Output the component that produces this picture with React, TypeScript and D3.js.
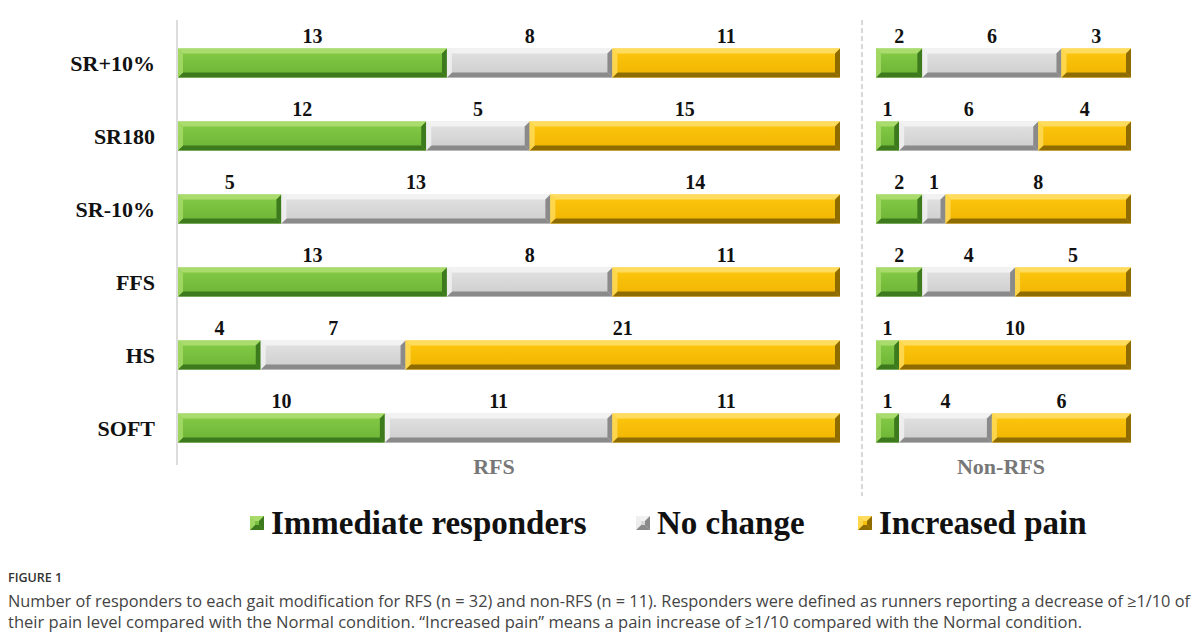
import React from "react";
import * as d3 from "d3";

const categories = ["SR+10%", "SR180", "SR-10%", "FFS", "HS", "SOFT"];
const seriesNames = ["Immediate responders", "No change", "Increased pain"];
const rfsImmediate = [13, 12, 5, 13, 4, 10];
const rfsNoChange = [8, 5, 13, 8, 7, 11];
const rfsIncreased = [11, 15, 14, 11, 21, 11];
const nonImmediate = [2, 1, 2, 2, 1, 1];
const nonNoChange = [6, 6, 1, 4, 0, 4];
const nonIncreased = [3, 4, 8, 5, 10, 6];
const rfsTotal = 32;
const nonTotal = 11;
const captionTitle = "FIGURE 1";
const captionLines = [
  "Number of responders to each gait modification for RFS (n = 32) and non-RFS (n = 11). Responders were defined as runners reporting a decrease of \u22651/10 of",
  "their pain level compared with the Normal condition. \u201cIncreased pain\u201d means a pain increase of \u22651/10 compared with the Normal condition.",
];

const palettes = [
  { light: "#a9dc6c", face: "#86cc48", face2: "#6cb335", dark: "#3d7a1d", side: "#5a9a2c" },
  { light: "#f2f2f2", face: "#e3e3e3", face2: "#cdcdcd", dark: "#8a8a8a", side: "#ababab" },
  { light: "#ffdc5e", face: "#fdc70f", face2: "#f0b400", dark: "#8f6c00", side: "#b88f00" },
];

function Bevel({ x, y, w, h, k, b = 5 }: { x: number; y: number; w: number; h: number; k: number; b?: number }) {
  const p = palettes[k];
  if (w <= 0) return null;
  const bb = Math.min(b, w / 2);
  return (
    <g>
      <rect x={x} y={y} width={w} height={h} fill={`url(#grad${k})`} />
      <polygon points={`${x},${y} ${x + w},${y} ${x + w - bb},${y + bb} ${x + bb},${y + bb}`} fill={p.light} />
      <polygon points={`${x},${y + h} ${x + w},${y + h} ${x + w - bb},${y + h - bb} ${x + bb},${y + h - bb}`} fill={p.dark} />
      <polygon points={`${x},${y} ${x + bb},${y + bb} ${x + bb},${y + h - bb} ${x},${y + h}`} fill={p.light} opacity={0.8} />
      <polygon points={`${x + w},${y} ${x + w - bb},${y + bb} ${x + w - bb},${y + h - bb} ${x + w},${y + h}`} fill={p.dark} />
    </g>
  );
}

export default function App() {
  const W = 1200, H = 639;
  const yScale = d3.scalePoint<string>().domain(categories).range([26.5, 464.5]).padding(0.5);
  const xA = d3.scaleLinear().domain([0, rfsTotal]).range([178, 840]);
  const xB = d3.scaleLinear().domain([0, nonTotal]).range([876, 1131]);
  const barH = 29;
  const serif = "'Liberation Serif', 'Times New Roman', serif";

  const panels = [
    { x: xA, data: [rfsImmediate, rfsNoChange, rfsIncreased] },
    { x: xB, data: [nonImmediate, nonNoChange, nonIncreased] },
  ];

  const legendX = [250, 636, 858];

  return (
    <svg width={W} height={H} style={{ display: "block", position: "absolute", left: 0, top: 0 }}>
      <defs>
        {palettes.map((p, i) => (
          <linearGradient key={i} id={`grad${i}`} x1="0" y1="0" x2="0" y2="1">
            <stop offset="0" stopColor={p.face} />
            <stop offset="1" stopColor={p.face2} />
          </linearGradient>
        ))}
      </defs>
      <rect width={W} height={H} fill="#fff" />
      <line x1={177} x2={177} y1={20} y2={465} stroke="#d0d0d0" strokeWidth={1.5} />
      <line x1={862} x2={862} y1={20} y2={496} stroke="#b0b0b0" strokeWidth={1} strokeDasharray="5,3" />
      {categories.map((c, i) => {
        const cy = yScale(c)!;
        return (
          <g key={c}>
            <text x={155} y={cy} dy="0.35em" textAnchor="end" fontFamily={serif} fontWeight="bold" fontSize={22} fill="#111">
              {c}
            </text>
            {panels.map((pan, pi) => {
              let acc = 0;
              return (
                <g key={pi}>
                  {pan.data.map((arr, k) => {
                    const v = arr[i];
                    const x0 = pan.x(acc);
                    acc += v;
                    const x1 = pan.x(acc);
                    if (v === 0) return null;
                    return (
                      <g key={k}>
                        <Bevel x={x0} y={cy - barH / 2} w={x1 - x0} h={barH} k={k} />
                        <text x={(x0 + x1) / 2} y={cy - 27} dy="0.35em" textAnchor="middle" fontFamily={serif} fontWeight="bold" fontSize={20} fill="#111">
                          {v}
                        </text>
                      </g>
                    );
                  })}
                </g>
              );
            })}
          </g>
        );
      })}
      <text x={494} y={466} dy="0.35em" textAnchor="middle" fontFamily={serif} fontWeight="bold" fontSize={22} fill="#777">RFS</text>
      <text x={1001} y={466} dy="0.35em" textAnchor="middle" fontFamily={serif} fontWeight="bold" fontSize={22} fill="#777">Non-RFS</text>
      {seriesNames.map((s, k) => (
        <g key={s}>
          <Bevel x={legendX[k]} y={516} w={14} h={14} k={k} b={5} />
          <text x={legendX[k] + 21} y={522} dy="0.35em" fontFamily={serif} fontWeight="bold" fontSize={33} fill="#111">
            {s}
          </text>
        </g>
      ))}
      <text x={8} y={582} fontFamily="'Open Sans', sans-serif" fontSize={12.5} fontWeight={600} fill="#333">{captionTitle}</text>
      <text x={8} y={607} fontFamily="'Open Sans', sans-serif" fontSize={16} fill="#444" textLength={1182} lengthAdjust="spacingAndGlyphs">
        {captionLines[0]}
      </text>
      <text x={8} y={628} fontFamily="'Open Sans', sans-serif" fontSize={16} fill="#444" textLength={1074} lengthAdjust="spacingAndGlyphs">
        {captionLines[1]}
      </text>
    </svg>
  );
}
